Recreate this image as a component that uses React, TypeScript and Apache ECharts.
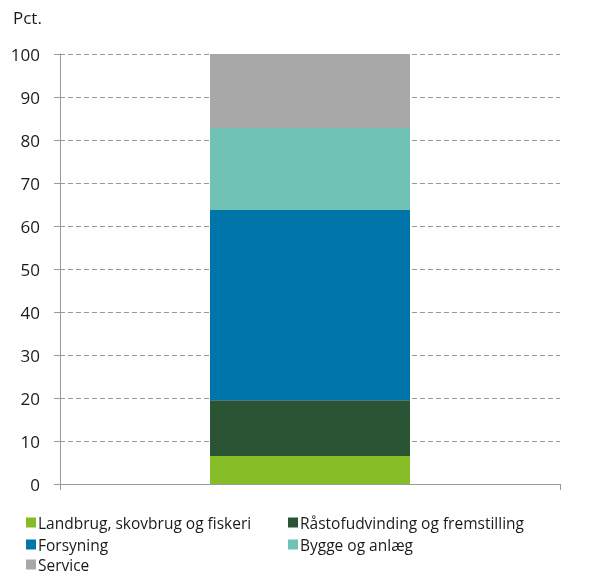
import React, { useEffect, useRef } from "react";
import * as echarts from "echarts";

const categories = [""];
const seriesNames = [
  "Landbrug, skovbrug og fiskeri",
  "Råstofudvinding og fremstilling",
  "Forsyning",
  "Bygge og anlæg",
  "Service",
];
const seriesValues = [6.5, 13.0, 44.2, 19.1, 17.2];
const seriesColors = ["#86bc25", "#2b5434", "#0075a9", "#70c3b4", "#a8a8a9"];
const yTicks = [0, 10, 20, 30, 40, 50, 60, 70, 80, 90, 100];

const FONT = "'Open Sans', sans-serif";

export default function App() {
  const ref = useRef<HTMLDivElement>(null);
  useEffect(() => {
    if (!ref.current) return;
    const chart = echarts.init(ref.current, null, { renderer: "svg" });
    const legendPos = [
      { left: 26, top: 514 },
      { left: 288, top: 514 },
      { left: 26, top: 536 },
      { left: 288, top: 536 },
      { left: 26, top: 556 },
    ];
    chart.setOption({
      animation: false,
      textStyle: { fontFamily: FONT },
      grid: { left: 60, right: 38, top: 54, bottom: 90 },
      graphic: [
        {
          type: "text",
          left: 13,
          top: 9,
          style: { text: "Pct.", fontSize: 17, fontFamily: FONT, fill: "#1a1a1a" },
        },
      ],
      legend: seriesNames.map((name, i) => ({
        data: [name],
        left: legendPos[i].left,
        top: legendPos[i].top,
        itemWidth: 10,
        itemHeight: 10,
        itemGap: 0,
        icon: "rect",
        padding: 0,
        textStyle: { fontSize: 15.5, fontFamily: FONT, color: "#1a1a1a", padding: [0, 0, 0, -3], lineHeight: 17 },
        selectedMode: false,
      })),
      xAxis: {
        type: "category",
        data: categories,
        axisLine: { lineStyle: { color: "#999999", width: 1 } },
        axisTick: { show: true, length: 6, lineStyle: { color: "#999999" } },
        axisLabel: { show: false },
      },
      yAxis: {
        type: "value",
        min: yTicks[0],
        max: yTicks[yTicks.length - 1],
        interval: 10,
        axisLine: { show: true, lineStyle: { color: "#999999", width: 1 } },
        axisTick: { show: true, length: 6, lineStyle: { color: "#999999" } },
        axisLabel: { fontSize: 17, fontFamily: FONT, color: "#1a1a1a", margin: 20 },
        splitLine: { show: true, lineStyle: { color: "#999999", type: [5, 3], width: 1 } },
      },
      series: seriesNames.map((name, i) => ({
        name,
        type: "bar",
        stack: "total",
        barWidth: "40%",
        data: [seriesValues[i]],
        itemStyle: { color: seriesColors[i] },
      })),
    });
    return () => chart.dispose();
  }, []);
  return (
    <div
      ref={ref}
      style={{ position: "fixed", left: 0, top: 0, width: 598, height: 574 }}
    />
  );
}
